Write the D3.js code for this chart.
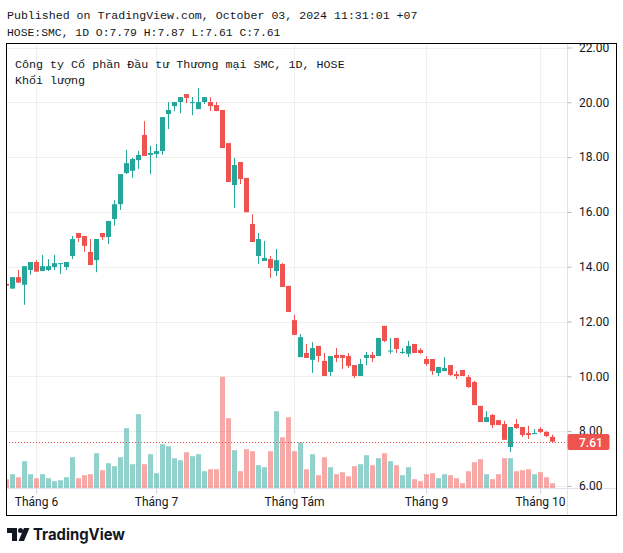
<!DOCTYPE html>
<html><head><meta charset="utf-8">
<script src="https://cdn.jsdelivr.net/npm/d3@7"></script>
<style>body{margin:0;background:#fff}svg{display:block}</style>
</head><body><svg id="c" width="623" height="553"></svg>
<script>
const dates = [
"2024-05-27","2024-05-28","2024-05-29","2024-05-30","2024-05-31",
"2024-06-03","2024-06-04","2024-06-05","2024-06-06","2024-06-07","2024-06-10","2024-06-11","2024-06-12","2024-06-13","2024-06-14",
"2024-06-17","2024-06-18","2024-06-19","2024-06-20","2024-06-21","2024-06-24","2024-06-25","2024-06-26","2024-06-27","2024-06-28",
"2024-07-01","2024-07-02","2024-07-03","2024-07-04","2024-07-05","2024-07-08","2024-07-09","2024-07-10","2024-07-11","2024-07-12",
"2024-07-15","2024-07-16","2024-07-17","2024-07-18","2024-07-19","2024-07-22","2024-07-23","2024-07-24","2024-07-25","2024-07-26",
"2024-07-29","2024-07-30","2024-07-31",
"2024-08-01","2024-08-02","2024-08-05","2024-08-06","2024-08-07","2024-08-08","2024-08-09","2024-08-12","2024-08-13","2024-08-14",
"2024-08-15","2024-08-16","2024-08-19","2024-08-20","2024-08-21","2024-08-22","2024-08-23","2024-08-26","2024-08-27","2024-08-28",
"2024-08-29","2024-08-30",
"2024-09-04","2024-09-05","2024-09-06","2024-09-09","2024-09-10","2024-09-11","2024-09-12","2024-09-13","2024-09-16","2024-09-17",
"2024-09-18","2024-09-19","2024-09-20","2024-09-23","2024-09-24","2024-09-25","2024-09-26","2024-09-27","2024-09-30",
"2024-10-01","2024-10-02","2024-10-03"];

const open = [13.37,13.20,13.62,13.34,13.88,14.17,13.84,13.88,13.99,14.10,13.99,14.39,15.23,15.12,14.54,14.24,15.23,15.08,15.74,16.28,
17.42,17.50,17.89,18.81,18.08,18.11,18.22,19.57,19.86,20.01,20.30,19.97,19.75,20.01,20.01,19.90,19.72,18.51,16.98,17.82,
17.24,15.56,14.39,14.21,14.28,13.84,14.10,13.30,12.05,10.70,10.85,10.60,11.11,10.56,10.16,10.78,10.78,10.74,10.41,10.01,
10.67,10.78,10.74,11.84,10.92,11.40,10.85,10.82,11.18,10.96,10.63,10.63,10.12,10.19,10.41,10.08,10.23,9.97,9.79,8.92,
8.33,8.59,8.40,8.26,7.42,8.26,8.15,7.93,7.89,8.08,7.97,7.79];
const high = [13.37,13.62,13.88,14.02,14.17,14.24,14.43,14.28,14.43,14.13,14.17,15.12,15.23,15.12,15.01,15.01,15.23,15.67,16.43,17.38,
18.26,17.97,18.22,19.31,18.41,18.48,19.46,20.01,20.01,20.19,20.30,20.19,20.52,20.19,20.19,20.01,19.72,18.51,17.97,17.82,
17.24,15.92,15.23,14.94,14.39,14.65,14.13,13.30,12.24,11.54,11.18,11.25,11.11,10.85,10.74,11.03,10.78,10.85,10.41,10.63,
10.89,10.89,11.40,11.84,11.40,11.40,11.03,11.29,11.18,11.03,10.74,10.63,10.34,10.70,10.41,10.19,10.23,10.05,9.83,8.92,
8.73,8.62,8.40,8.37,8.15,8.44,8.15,8.19,8.08,8.15,8.00,7.87];
const low = [13.31,13.20,13.42,12.61,13.71,13.82,13.84,13.84,13.88,13.73,13.88,14.28,14.90,14.54,14.06,13.80,14.97,14.83,15.50,16.07,
17.38,17.24,17.57,18.04,17.38,17.97,18.08,19.02,19.68,19.60,19.97,19.53,19.75,19.94,19.68,19.68,18.33,17.09,16.14,17.02,
15.99,14.90,14.10,14.21,13.59,13.66,13.26,12.35,11.51,10.70,10.67,10.12,10.52,10.01,10.01,10.52,10.27,10.30,9.94,10.01,
10.41,10.52,10.74,11.25,10.82,10.85,10.82,10.70,10.85,10.82,10.38,10.05,10.01,10.19,10.01,9.90,10.01,9.57,8.95,8.33,
8.33,8.11,8.22,7.68,7.24,8.08,7.78,7.71,7.89,7.93,7.78,7.61];
const close = [13.31,13.62,13.42,14.02,14.17,13.82,14.02,14.02,14.13,14.13,14.17,15.01,15.05,14.76,14.06,15.01,15.08,15.67,16.28,17.38,
17.78,17.93,18.08,18.04,18.15,18.22,19.46,19.72,20.01,20.19,20.16,20.01,20.01,20.19,19.86,19.68,18.33,17.09,17.71,17.20,
15.99,14.90,15.01,14.32,13.95,14.24,13.26,12.35,11.51,11.43,10.67,11.03,10.74,10.01,10.74,10.67,10.67,10.38,10.01,10.45,
10.78,10.67,11.40,11.29,10.94,11.00,10.89,11.11,10.85,10.85,10.45,10.19,10.34,10.30,10.05,10.01,10.01,9.61,8.95,8.33,
8.51,8.22,8.22,7.68,8.15,8.11,7.86,7.86,7.93,7.97,7.82,7.61];
// volume in thousand shares
const volume = [93,143,113,273,143,103,143,103,73,83,113,313,103,133,143,353,183,253,223,313,
603,243,743,243,343,153,443,423,303,283,363,323,343,173,193,193,1117,703,383,173,
393,373,233,213,373,773,513,713,373,463,193,343,133,313,213,143,163,123,223,243,
333,233,303,353,273,233,133,213,93,73,143,153,103,143,133,103,53,173,263,293,
143,93,143,303,303,173,183,193,143,163,113,53];

const priceTicks = [6,8,10,12,14,16,18,20,22];
const monthStarts = ["2024-06-03","2024-07-01","2024-08-01","2024-09-04","2024-10-01"];
const monthLabels = ["Tháng 6","Tháng 7","Tháng Tám","Tháng 9","Tháng 10"];
const lastPrice = 7.61;
const headerLine1 = "Published on TradingView.com, October 03, 2024 11:31:01 +07";
const headerLine2 = "HOSE:SMC, 1D O:7.79 H:7.87 L:7.61 C:7.61";
const legendTitle = "Công ty Cổ phần Đầu tư Thương mại SMC, 1D, HOSE";
const legendVol = "Khối lượng";

const UP = "#26a69a", DOWN = "#ef5350";
const UPV = "rgba(38,166,154,0.5)", DOWNV = "rgba(239,83,80,0.5)";
const TXT = "#131722";
const GRID = "#efefef";

const L = 6, T = 43, R = 617, B = 516, PR = 567, TA = 488.5;

const svg = d3.select("#c");
svg.append("rect").attr("width",623).attr("height",553).attr("fill","#fff");

const x = d3.scaleBand().domain(dates).range([3.5, 3.5 + 6*dates.length]).paddingInner(0);
const cx = d => x(d) + x.bandwidth()/2;
const y = d3.scaleLinear().domain([6,22]).range([485.9, 47.5]);
const yv = d3.scaleLinear().domain([0,1200]).range([488.5, 368.5]);

svg.append("defs").append("clipPath").attr("id","plot")
  .append("rect").attr("x",L+0.5).attr("y",T).attr("width",PR-L-0.5).attr("height",TA-T);

// grid
const grid = svg.append("g");
grid.selectAll("line.h").data(priceTicks).join("line")
  .attr("x1",L).attr("x2",PR).attr("y1",d=>Math.round(y(d))+0.5).attr("y2",d=>Math.round(y(d))+0.5)
  .attr("stroke",GRID);
grid.selectAll("line.v").data(monthStarts).join("line")
  .attr("x1",d=>Math.floor(cx(d))+0.5).attr("x2",d=>Math.floor(cx(d))+0.5).attr("y1",T).attr("y2",TA)
  .attr("stroke",GRID);

const plot = svg.append("g").attr("clip-path","url(#plot)");
const idx = d3.range(dates.length);

// volume
plot.selectAll("rect.vol").data(idx).join("rect")
  .attr("x",i=>Math.floor(cx(dates[i]))-2).attr("width",5)
  .attr("y",i=>yv(volume[i])).attr("height",i=>yv(0)-yv(volume[i]))
  .attr("fill",i=>close[i]>=open[i]?UPV:DOWNV);

// wicks
plot.selectAll("line.wick").data(idx).join("line")
  .attr("x1",i=>Math.floor(cx(dates[i]))+0.5).attr("x2",i=>Math.floor(cx(dates[i]))+0.5)
  .attr("y1",i=>y(high[i])).attr("y2",i=>y(low[i]))
  .attr("stroke",i=>close[i]>=open[i]?UP:DOWN).attr("stroke-width",1);
// bodies
plot.selectAll("rect.body").data(idx).join("rect")
  .attr("x",i=>Math.floor(cx(dates[i]))-2).attr("width",5)
  .attr("y",i=>y(Math.max(open[i],close[i])))
  .attr("height",i=>Math.max(1,Math.abs(y(open[i])-y(close[i]))))
  .attr("fill",i=>close[i]>=open[i]?UP:DOWN);

// last price dotted line
const ly = Math.round(y(lastPrice))+0.5;
svg.append("line").attr("x1",L).attr("x2",PR).attr("y1",ly).attr("y2",ly)
  .attr("stroke",DOWN).attr("stroke-dasharray","1,2");

// axes separators
svg.append("line").attr("x1",PR+0.5).attr("x2",PR+0.5).attr("y1",T).attr("y2",B).attr("stroke","#e0e3eb");
svg.append("line").attr("x1",L).attr("x2",R).attr("y1",TA).attr("y2",TA).attr("stroke","#e0e3eb");

// price axis
const ya = svg.append("g").attr("transform",`translate(${PR+0.5},0)`)
  .call(d3.axisRight(y).tickValues(priceTicks).tickFormat(d3.format(".2f")).tickSize(4).tickPadding(7.5));
ya.select(".domain").remove();
ya.selectAll(".tick line").attr("stroke","#b2b5be");
ya.selectAll("text").attr("fill",TXT).style("font-family","Roboto, 'Liberation Sans', sans-serif").style("font-size","12px");

// time axis
const xa = svg.append("g").attr("transform",`translate(0,${TA})`)
  .call(d3.axisBottom(x).tickValues(monthStarts).tickFormat((d,i)=>monthLabels[i]).tickSize(5).tickPadding(3.5));
xa.select(".domain").remove();
xa.selectAll(".tick line").attr("stroke","#d1d4dc");
xa.selectAll("text").attr("fill",TXT).style("font-family","Roboto, 'Liberation Sans', sans-serif").style("font-size","12px");

// last price label
svg.append("rect").attr("x",PR+0.5).attr("y",ly-8.5).attr("width",42).attr("height",16).attr("rx",2).attr("fill",DOWN);
svg.append("text").attr("x",579).attr("y",ly+4).attr("fill","#fff")
  .style("font-family","Roboto, 'Liberation Sans', sans-serif").style("font-size","12px").style("font-weight","500")
  .text(lastPrice.toFixed(2));

// frame
svg.append("rect").attr("x",L+0.5).attr("y",T+0.5).attr("width",R-L-1).attr("height",B-T-1)
  .attr("fill","none").attr("stroke","#000");

// header texts
const mono = "'Liberation Mono', 'DejaVu Sans Mono', monospace";
svg.append("text").attr("x",7).attr("y",19).attr("fill",TXT).style("font-family",mono).style("font-size","11.6px")
  .text(headerLine1);
svg.append("text").attr("x",7).attr("y",36).attr("fill",TXT).style("font-family",mono).style("font-size","11.4px")
  .text(headerLine2);
svg.append("text").attr("x",15).attr("y",67.5).attr("fill",TXT).style("font-family",mono).style("font-size","11.7px")
  .text(legendTitle);
svg.append("text").attr("x",15).attr("y",84).attr("fill",TXT).style("font-family",mono).style("font-size","11.7px")
  .text(legendVol);

// TradingView logo
const lg = svg.append("g").attr("fill",TXT);
lg.append("path").attr("d","M7 528h10v13h-5v-8h-5z");
lg.append("circle").attr("cx",20.5).attr("cy",530.5).attr("r",2.5);
lg.append("path").attr("d","M24 528h5.5l-5.5 13h-5.5z");
lg.append("text").attr("x",33).attr("y",540).style("font-family","Inter, Roboto, sans-serif")
  .style("font-size","15.5px").style("font-weight","700").attr("textLength",92).attr("lengthAdjust","spacingAndGlyphs")
  .text("TradingView");
</script>
</body></html>
